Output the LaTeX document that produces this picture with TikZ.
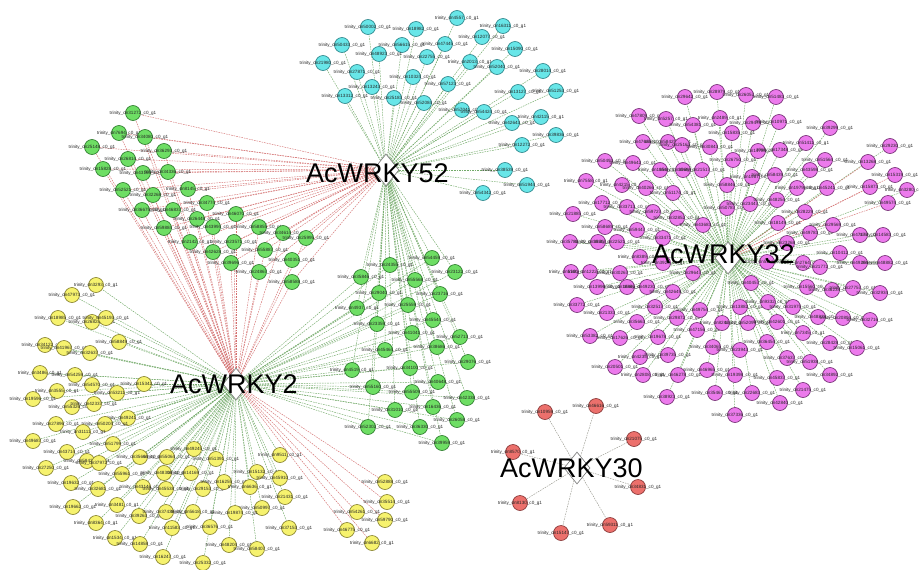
\documentclass[tikz,border=0pt]{standalone}
\usepackage{fontspec}
\setmainfont{Liberation Sans}
\usetikzlibrary{shapes.geometric}
\pgfdeclarelayer{bg}
\pgfsetlayers{bg,main}
\definecolor{cyF}{RGB}{104,230,232}
\definecolor{cyB}{RGB}{40,130,135}
\definecolor{grF}{RGB}{110,222,100}
\definecolor{grB}{RGB}{40,120,40}
\definecolor{yeF}{RGB}{246,242,110}
\definecolor{yeB}{RGB}{130,125,40}
\definecolor{mgF}{RGB}{236,122,236}
\definecolor{mgB}{RGB}{110,40,110}
\definecolor{rdF}{RGB}{236,112,108}
\definecolor{rdB}{RGB}{130,50,50}
\definecolor{eG}{RGB}{115,170,105}
\definecolor{eR}{RGB}{212,112,112}
\definecolor{eK}{RGB}{155,155,145}
\newcommand\trlab[1]{\makebox[0pt]{trinity\_dn#1\_c0\_g1}}
\tikzset{
  small/.style={circle, inner sep=0pt, minimum size=15pt, line width=0.6pt,
    font=\fontsize{4.6}{5}\selectfont, text=black!85},
  cyn/.style={small, draw=cyB, fill=cyF},
  grn/.style={small, draw=grB, fill=grF},
  yel/.style={small, draw=yeB, fill=yeF},
  mag/.style={small, draw=mgB, fill=mgF},
  rdn/.style={small, draw=rdB, fill=rdF},
  hub/.style={diamond, draw=black!55, fill=white, minimum width=26pt,
    minimum height=32pt, inner sep=0pt, line width=0.6pt},
  hubtext/.style={font=\fontsize{27}{27}\selectfont, inner sep=0pt, anchor=base west},
  gedge/.style={draw=eG, line width=0.45pt, dash pattern=on 1.6pt off 1pt},
  redge/.style={draw=eR, line width=0.45pt, dash pattern=on 1.6pt off 1pt},
  kedge/.style={draw=eK, line width=0.45pt, dash pattern=on 1.6pt off 1pt},
}
\begin{document}
\begin{tikzpicture}[x=1pt,y=-1pt]
\pgfmathsetseed{17}
\useasboundingbox (0,0) rectangle (919,570);
% hubs
\node[hub] (h52) at (386,170) {};
\node[hub] (h2) at (236,384) {};
\node[hub] (h32) at (728,258) {};
\node[hub] (h30) at (577,468) {};
% cyan cluster -> AcWRKY52
\foreach \x/\y [count=\i] in {457/18,503/26,368/27,416/29,482/37,342/45,402/45,445/44,379/54,427/57,515/49,323/63,470/62,497/67,543/71,357/72,413/77,372/87,448/84,518/92,556/91,345/96,394/98,424/103,462/110,484/112,512/123,541/117,556/135,522/145,505/170,527/185,483/193}{
  \pgfmathrandominteger{\rn}{1000}{59999}
  \node[cyn] (c\i) at (\x,\y) {\trlab{\rn}};
  \xdef\nC{\i}
}
% green upper-left cluster
\foreach \x/\y [count=\i] in {133/113,119/133,145/137,92/147,164/151,128/159,103/169,143/173,168/172,123/190,188/189,153/195,207/203,142/210,173/210,236/214,197/219,164/228,213/227,259/227,283/233,234/242,190/242,265/250,213/252,292/260,231/263,259/272,306/238,292/282}{
  \pgfmathrandominteger{\rn}{1000}{59999}
  \node[grn] (ga\i) at (\x,\y) {\trlab{\rn}};
  \xdef\nGA{\i}
}
% green lower-right cluster
\foreach \x/\y [count=\i] in {390/265,361/277,379/293,357/308,377/324,432/258,455/272,415/280,440/294,408/305,433/320,412/333,460/337,437/347,385/350,410/368,352/370,468/362,373/387,412/392,438/382,467/398,395/410,433/407,457/420,368/427,420/427,442/443}{
  \pgfmathrandominteger{\rn}{1000}{59999}
  \node[grn] (gb\i) at (\x,\y) {\trlab{\rn}};
  \xdef\nGB{\i}
}
% yellow cluster
\foreach \x/\y [count=\i] in {96/285,72/295,58/318,92/322,106/318,119/342,45/345,64/348,90/353,40/373,75/375,144/384,92/385,57/391,117/393,33/399,72/407,94/404,128/418,56/424,105/424,83/432,33/441,113/444,67/452,194/449,140/457,167/457,216/459,87/461,99/463,46/468,122/474,164/473,191/473,71/483,143/487,166/489,203/489,98/489,117/505,73/507,139/516,166/512,193/512,96/523,172/528,210/527,115/538,140/544,163/557,203/563,280/455,257/472,280/478,224/482,250/487,285/497,262/508,235/513,289/528,229/545,257/549}{
  \pgfmathrandominteger{\rn}{1000}{59999}
  \node[yel] (y\i) at (\x,\y) {\trlab{\rn}};
  \xdef\nY{\i}
}
\foreach \x/\y [count=\i] in {385/482,387/502,357/512,385/520,347/530,372/543}{
  \pgfmathrandominteger{\rn}{1000}{59999}
  \node[yel] (yr\i) at (\x,\y) {\trlab{\rn}};
  \xdef\nYR{\i}
}
% magenta cluster
\foreach \x/\y [count=\i] in {685/97,717/92,746/95,776/97,639/116,666/119,693/125,720/118,753/123,779/122,830/128,643/142,668/142,682/145,710/147,732/133,758/151,780/150,806/143,890/146,605/161,633/163,660/170,683/170,702/170,733/160,752/177,775/175,810/170,825/160,586/181,622/185,646/188,673/193,727/185,797/188,827/188,907/190,602/203,627/207,653/212,677/218,727/208,750/204,777/200,805/212,573/214,605/227,637/230,663/238,703/225,778/223,810/233,833/225,860/235,883/235,570/242,598/242,617/242,640/257,787/243,803/263,840/253,860/263,885/263,571/272,590/272,620/273,663/263,693/273,767/262,820/267,597/287,627/287,647/287,673/292,751/283,807/287,832/290,853/288,880/293,577/305,607/313,637/322,655/307,677/318,700/310,740/307,768/302,793/307,818/317,843/318,870/320,590/336,620/338,658/337,697/330,722/323,748/323,777/322,803/333,830/343,857/348,640/357,668/355,713/347,740/350,767/342,787/358,810/362,615/367,643/375,678/375,707/370,735/375,777/378,830/375,667/397,715/393,752/393,803/390,735/415,780/403}{
  \pgfmathrandominteger{\rn}{1000}{59999}
  \node[mag] (m\i) at (\x,\y) {\trlab{\rn}};
  \xdef\nM{\i}
}
\foreach \x/\y [count=\i] in {868/162,895/175,870/187,888/203}{
  \pgfmathrandominteger{\rn}{1000}{59999}
  \node[mag] (mr\i) at (\x,\y) {\trlab{\rn}};
  \xdef\nMR{\i}
}
% red cluster
\foreach \x/\y [count=\i] in {545/412,596/406,634/439,513/452,638/487,520/503,610/525,561/533}{
  \pgfmathrandominteger{\rn}{1000}{59999}
  \node[rdn] (r\i) at (\x,\y) {\trlab{\rn}};
  \xdef\nR{\i}
}
% connectors on background layer
\begin{pgfonlayer}{bg}
\fill[white] (0,0) rectangle (919,570);
\foreach \i in {1,...,\nC}{\draw[gedge] (h52) -- (c\i);}
\foreach \i in {1,...,\nGA}{\draw[redge] (h52) -- (ga\i); \draw[redge] (h2) -- (ga\i);}
\foreach \i in {1,...,\nGB}{\draw[gedge] (h52) -- (gb\i); \draw[gedge] (h2) -- (gb\i);}
\foreach \i in {1,...,\nY}{\draw[gedge] (h2) -- (y\i);}
\foreach \i in {1,...,\nYR}{\draw[redge] (h2) -- (yr\i);}
\foreach \i in {1,...,\nM}{\draw[gedge] (h32) -- (m\i);}
\foreach \i in {1,...,\nMR}{\draw[redge] (h32) -- (mr\i);}
\foreach \i in {1,...,\nR}{\draw[kedge] (h30) -- (r\i);}
\end{pgfonlayer}
% hub labels
\node[hubtext] (t52) at (306,182) {AcWRKY52};
\node[hubtext] (t2) at (170,393) {AcWRKY2};
\node[hubtext] (t32) at (652,263) {AcWRKY32};
\node[hubtext] (t30) at (500,477) {AcWRKY30};
\end{tikzpicture}
\end{document}
